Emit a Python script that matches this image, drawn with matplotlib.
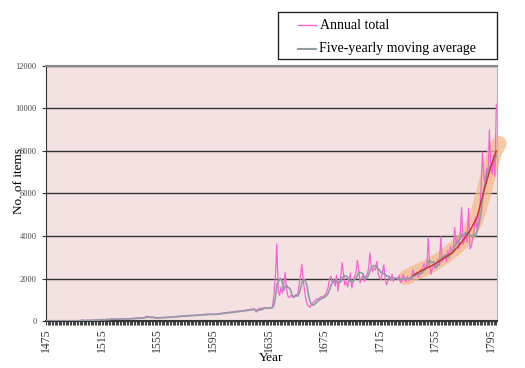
import numpy as np
import pandas as pd
import matplotlib
matplotlib.use("Agg")
import matplotlib.pyplot as plt
from matplotlib.lines import Line2D
from matplotlib.patches import Rectangle

# Annual totals, 1475-1799, one row per decade
years = np.arange(1475, 1800)
annual = [
    0, 0, 0, 5, 0, 0, 10, 0, 0, 5,                      # 1475
    0, 10, 0, 5, 0, 10, 0, 0, 15, 5,                    # 1485
    10, 0, 20, 10, 5, 30, 60, 20, 10, 30,               # 1495
    20, 40, 30, 50, 40, 30, 60, 50, 40, 70,             # 1505
    60, 80, 50, 70, 90, 60, 80, 110, 70, 90,            # 1515
    80, 100, 70, 120, 90, 80, 110, 90, 100, 120,        # 1525
    100, 90, 130, 110, 140, 120, 150, 130, 160, 140,    # 1535
    150, 180, 220, 200, 190, 160, 150, 180, 140, 130,   # 1545
    150, 140, 170, 160, 180, 150, 170, 190, 160, 200,   # 1555
    180, 210, 190, 220, 200, 230, 210, 250, 220, 240,   # 1565
    260, 230, 250, 280, 240, 270, 250, 290, 260, 280,   # 1575
    300, 270, 310, 290, 320, 280, 340, 300, 330, 310,   # 1585
    320, 290, 340, 310, 360, 330, 380, 350, 400, 370,   # 1595
    390, 420, 380, 430, 410, 450, 420, 470, 440, 480,   # 1605
    460, 500, 470, 520, 490, 540, 510, 560, 530, 580,   # 1615
    560, 420, 450, 600, 560, 620, 580, 640, 590, 610,   # 1625
    620, 600, 640, 700, 1300, 2200, 3630, 1400, 1200, 1600,    # 1635
    1300, 1700, 2280, 1500, 1150, 1100, 1200, 1150, 1100, 1200,  # 1645
    1250, 1200, 1700, 2100, 2670, 1900, 1400, 1000, 750, 700,  # 1655
    650, 780, 850, 900, 980, 1050, 1000, 1100, 1150, 1080,     # 1665
    1200, 1250, 1400, 1600, 2000, 2100, 1800, 1950, 1650, 2150,  # 1675
    1400, 1900, 2100, 2750, 2200, 1700, 1850, 1600, 2000, 2250,  # 1685
    1550, 1900, 2100, 2300, 2850, 2350, 1800, 2000, 2150, 1850,  # 1695
    2100, 2200, 2450, 3200, 2600, 2300, 2500, 2400, 2800, 2200,  # 1705
    2050, 1950, 2300, 2650, 2000, 1700, 1900, 2100, 1950, 2200,  # 1715
    1850, 2050, 2000, 1950, 2150, 1800, 1900, 2200, 2000, 1850,  # 1725
    2100, 1900, 2050, 2100, 2400, 2200, 2100, 2300, 2050, 2400,  # 1735
    2300, 2500, 2700, 2400, 2600, 3950, 2600, 2200, 2500, 2700,  # 1745
    2500, 2700, 2900, 2600, 3970, 2800, 2900, 3100, 2800, 3300,  # 1755
    3050, 3500, 3200, 3400, 4400, 3600, 3900, 3400, 4100, 5350,  # 1765
    3600, 3800, 4100, 3700, 5300, 3400, 3500, 3900, 4300, 4900,  # 1775
    4400, 4700, 5200, 6200, 7950, 6900, 6300, 7200, 6800, 9000,  # 1785
    7300, 6900, 7800, 6800, 10200,                               # 1795
]

# hand-drawn trend over the last decades and the highlight around it
trend_years = [1739, 1746, 1754, 1760, 1768, 1774, 1780, 1785, 1790, 1795, 1799]
trend_vals = [2150, 2400, 2650, 2900, 3250, 3700, 4250, 4850, 6100, 7250, 8000]
band_years = [1734, 1740, 1750, 1760, 1770, 1778, 1784, 1789, 1794, 1798, 1801]
band_vals = [2050, 2250, 2550, 2950, 3450, 4000, 4700, 5800, 7100, 8000, 8350]

label_years = list(range(1475, 1800, 40))

moving = pd.Series(annual, index=years).rolling(5, min_periods=1).mean()

plt.rcParams['font.family'] = ['Liberation Serif', 'DejaVu Serif']

fig = plt.figure(figsize=(5.25, 3.68), dpi=100)
ax = fig.add_axes([0.0867, 0.1277, 0.86, 0.693])
ax.set_facecolor('#f4e2e2')

ax.plot(band_years, band_vals, color='#f4b98a', lw=11, alpha=0.75,
        solid_capstyle='round', clip_on=False, zorder=2)
ax.plot(years, annual, color='#f763d4', lw=0.9, zorder=3)
ax.plot(years, moving.values, color='#8e9ca4', lw=1.2, zorder=4)
ax.plot(trend_years, trend_vals, color='#cc3322', lw=1.0, zorder=5)

ax.set_xlim(1474.5, 1799.5)
ax.set_ylim(0, 12000)
ax.set_yticks(range(0, 12001, 2000))
ax.set_xticks(label_years)
ax.set_xticks(years, minor=True)
ax.set_xticklabels([str(y) for y in label_years], rotation=90, fontsize=8.5, color='#333333')
ax.tick_params(axis='y', labelsize=6, labelcolor='#444444', length=3, color='#333333')
ax.tick_params(axis='x', which='both', length=3, width=0.8, color='#444444', pad=2)
ax.yaxis.grid(True, color='#333333', lw=1.0)
ax.set_axisbelow(True)

ax.spines['top'].set_color('#888888')
ax.spines['top'].set_linewidth(1.5)
ax.spines['right'].set_color('#a9b6bd')
ax.spines['left'].set_color('#333333')
ax.spines['bottom'].set_color('#333333')
ax.spines['bottom'].set_linewidth(1.5)

ax.set_xlabel('Year', fontsize=9.5, labelpad=0)
ax.set_ylabel('No. of items', fontsize=9.5)
ax.yaxis.set_label_coords(-0.045, 0.55)

# legend box drawn by hand, above the plot
fig.add_artist(Rectangle((0.5295, 0.8397), 0.4172, 0.1277, transform=fig.transFigure,
                         facecolor='white', edgecolor='#222222', lw=1.0))
fig.add_artist(Line2D([0.568, 0.602], [0.932, 0.932], transform=fig.transFigure,
                      color='#f763d4', lw=1.0))
fig.add_artist(Line2D([0.568, 0.602], [0.867, 0.867], transform=fig.transFigure,
                      color='#8e9ca4', lw=1.5))
fig.text(0.609, 0.932, 'Annual total', fontsize=10, va='center')
fig.text(0.607, 0.867, 'Five-yearly moving average', fontsize=10, va='center')

fig.savefig('out.png', dpi=100)
